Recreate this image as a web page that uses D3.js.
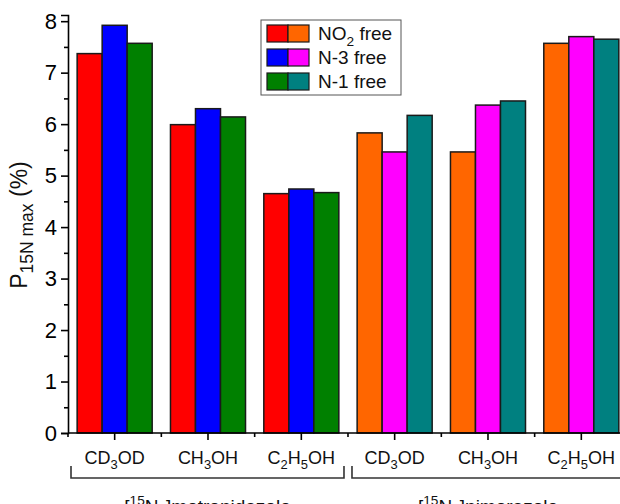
<!DOCTYPE html>
<html>
<head>
<meta charset="utf-8">
<script src="https://cdn.jsdelivr.net/npm/d3@7"></script>
<style>
	body { margin: 0; background: #fff; }
	svg { display: block; font-family: "Liberation Sans", Arial, sans-serif; }
</style>
</head>
<body>
<div id="chart"></div>
<script>
	// categories (solvents) and compound groups
	var categories = ['CD_3OD', 'CH_3OH', 'C_2H_5OH', 'CD_3OD ', 'CH_3OH ', 'C_2H_5OH '];
	var compounds = ['[^15N_3]metronidazole', '[^15N_3]nimorazole'];
	var series = ['NO_2 free', 'N-3 free', 'N-1 free'];
	var yTicks = [0, 1, 2, 3, 4, 5, 6, 7, 8];

	// values per series, in category order
	var no2Free = [7.37, 5.99, 4.65, 5.83, 5.46, 7.57];
	var n3Free  = [7.92, 6.30, 4.74, 5.46, 6.37, 7.70];
	var n1Free  = [7.57, 6.14, 4.67, 6.17, 6.45, 7.65];

	var metroColors = ['#ff0000', '#0000ff', '#008000'];
	var nimoColors  = ['#ff6600', '#ff00ff', '#008080'];

	var width = 620, height = 504;
	var plotLeft = 68, plotBottom = 433, plotTop = 15;

	var svg = d3.select('#chart').append('svg')
		.attr('width', width)
		.attr('height', height);

	// text with _sub and ^sup markup
	function richText(sel, str, size) {
		var parts = str.match(/[_^]\d+|[^_^]+/g);
		var shift = 0;
		parts.forEach(function(p){
			var t = sel.append('tspan');
			var want = 0, txt = p, fs = size;
			if (p[0] == '_') { want = size * 0.3; txt = p.slice(1); fs = size * 0.72; }
			else if (p[0] == '^') { want = -size * 0.4; txt = p.slice(1); fs = size * 0.72; }
			t.attr('dy', want - shift).style('font-size', fs + 'px').text(txt);
			shift = want;
		});
	}

	var x0 = d3.scaleBand()
		.domain(categories)
		.range([plotLeft, plotLeft + 6 * 93.33])
		.paddingInner(0.196)
		.paddingOuter(0.098);

	var x1 = d3.scaleBand()
		.domain([0, 1, 2])
		.range([0, x0.bandwidth()]);

	var y = d3.scaleLinear()
		.domain([0, 8.12])
		.range([plotBottom, plotTop]);

	var rows = categories.map(function(c, i){
		return { cat: c, vals: [no2Free[i], n3Free[i], n1Free[i]], colors: i < 3 ? metroColors : nimoColors };
	});

	var groups = svg.selectAll('.grp')
		.data(rows)
		.enter().append('g')
		.attr('class', 'grp')
		.attr('transform', function(d){ return 'translate(' + x0(d.cat) + ',0)'; });

	groups.selectAll('rect')
		.data(function(d){ return d.vals.map(function(v, j){ return { v: v, j: j, color: d.colors[j] }; }); })
		.enter().append('rect')
		.attr('x', function(d){ return x1(d.j); })
		.attr('y', function(d){ return y(d.v); })
		.attr('width', x1.bandwidth())
		.attr('height', function(d){ return plotBottom - y(d.v); })
		.style('fill', function(d){ return d.color; })
		.style('stroke', '#1a1a1a')
		.style('stroke-width', 1.5);

	// y axis
	var yAxis = svg.append('g')
		.attr('transform', 'translate(' + plotLeft + ',0)')
		.call(d3.axisLeft(y).tickValues(yTicks).tickSize(7).tickPadding(4).tickFormat(d3.format('d')));
	var yMinor = svg.append('g')
		.attr('transform', 'translate(' + plotLeft + ',0)')
		.call(d3.axisLeft(y).tickValues(d3.range(0.5, 8, 1)).tickSize(4).tickFormat(''));
	yMinor.select('.domain').remove();
	yMinor.selectAll('line').style('stroke', '#000').style('stroke-width', 1.6);
	yAxis.selectAll('text').style('font-size', '22px').style('fill', '#000');
	yAxis.selectAll('line, path').style('stroke', '#000').style('stroke-width', 1.6);

	// x axis
	var xAxis = svg.append('g')
		.attr('transform', 'translate(0,' + plotBottom + ')')
		.call(d3.axisBottom(x0).tickSize(7).tickSizeOuter(0).tickFormat(''));
	xAxis.select('.domain').attr('d', 'M' + plotLeft + ',0H' + (width + 20));
	var gap = x0.step() - x0.bandwidth();
	xAxis.selectAll('.minor')
		.data(categories)
		.enter().append('line')
		.attr('class', 'minor')
		.attr('x1', function(d){ return x0(d) - gap / 2; })
		.attr('x2', function(d){ return x0(d) - gap / 2; })
		.attr('y2', 4);
	xAxis.selectAll('line, path').style('stroke', '#000').style('stroke-width', 1.6);

	// category labels
	svg.selectAll('.cat')
		.data(categories)
		.enter().append('text')
		.attr('class', 'cat')
		.attr('x', function(d){ return x0(d) + x0.bandwidth() / 2; })
		.attr('y', 464)
		.attr('text-anchor', 'middle')
		.style('fill', '#111')
		.each(function(d){ richText(d3.select(this), d.trim(), 18); });

	// compound brackets
	var spans = [[x0(categories[0]) - gap / 2 + 3, x0(categories[2]) + x0.bandwidth() + gap / 2 - 4],
		[x0(categories[3]) - gap / 2 + 4, x0(categories[5]) + x0.bandwidth() + gap / 2 - 4]];
	svg.selectAll('.brk')
		.data(spans)
		.enter().append('path')
		.attr('class', 'brk')
		.attr('d', function(d){ return 'M' + d[0] + ',466V478H' + d[1] + 'V466'; })
		.style('fill', 'none')
		.style('stroke', '#333')
		.style('stroke-width', 1.6);
	svg.selectAll('.cmp')
		.data(compounds)
		.enter().append('text')
		.attr('class', 'cmp')
		.attr('x', function(d, i){ return (spans[i][0] + spans[i][1]) / 2; })
		.attr('y', 513)
		.attr('text-anchor', 'middle')
		.style('fill', '#111')
		.each(function(d){ richText(d3.select(this), d, 19); });

	// y title
	var title = svg.append('text')
		.attr('transform', 'translate(27,225) rotate(-90)')
		.attr('text-anchor', 'middle')
		.style('fill', '#111');
	title.append('tspan').style('font-size', '23px').text('P');
	title.append('tspan').attr('dy', 6).style('font-size', '17.5px').text('15N max');
	title.append('tspan').attr('dy', -6).style('font-size', '23px').text(' (%)');

	// legend
	var legend = svg.append('g');
	legend.append('rect')
		.attr('x', 261).attr('y', 20)
		.attr('width', 140).attr('height', 75)
		.style('fill', '#fff')
		.style('stroke', '#555')
		.style('stroke-width', 1);
	var item = legend.selectAll('.item')
		.data(series)
		.enter().append('g')
		.attr('class', 'item')
		.attr('transform', function(d, i){ return 'translate(267,' + (25 + i * 24) + ')'; });
	item.append('rect')
		.attr('width', 21).attr('height', 17)
		.style('fill', function(d, i){ return metroColors[i]; })
		.style('stroke', '#1a1a1a').style('stroke-width', 1.2);
	item.append('rect')
		.attr('x', 21)
		.attr('width', 21).attr('height', 17)
		.style('fill', function(d, i){ return nimoColors[i]; })
		.style('stroke', '#1a1a1a').style('stroke-width', 1.2);
	item.append('text')
		.attr('x', 51).attr('y', 15)
		.style('fill', '#111')
		.each(function(d){ richText(d3.select(this), d, 19); });
</script>
</body>
</html>
